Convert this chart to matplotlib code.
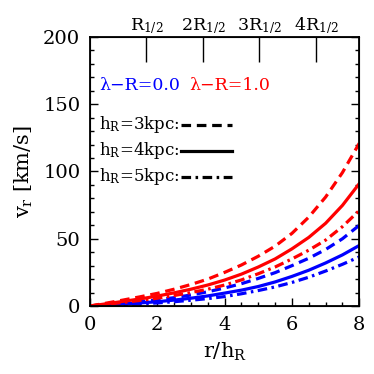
import matplotlib
matplotlib.use('Agg')
import matplotlib.pyplot as plt
import numpy as np

plt.rcParams['font.family'] = ['DejaVu Serif']
plt.rcParams['mathtext.fontset'] = 'dejavuserif'

# r / h_R sample points
x = [0, 0.5, 1, 1.5, 2, 2.5, 3, 3.5, 4, 4.5, 5, 5.5, 6, 6.5, 7, 7.5, 8]

# v_r [km/s], lambda-R = 0.0 (blue)
blue_h3 = [0, 1.0, 2.0, 3.2, 4.5, 6.2, 8.2, 10.6, 13.4, 16.6, 20.5, 24.8, 30.0, 35.5, 42.0, 50.0, 60.0]
blue_h4 = [0, 0.7, 1.5, 2.3, 3.2, 4.4, 5.8, 7.5, 9.6, 11.8, 14.5, 17.9, 22.0, 26.6, 32.0, 38.0, 45.0]
blue_h5 = [0, 0.5, 1.0, 1.6, 2.3, 3.2, 4.3, 5.5, 7.0, 9.1, 11.5, 14.2, 17.5, 21.4, 26.0, 31.0, 36.5]

# v_r [km/s], lambda-R = 1.0 (red)
red_h3 = [0, 2.2, 4.5, 6.9, 9.4, 12.5, 16.0, 20.0, 25.0, 30.5, 37.0, 44.5, 54.0, 66.1, 81.0, 99.2, 121.0]
red_h4 = [0, 1.7, 3.5, 5.3, 7.4, 9.8, 12.5, 15.6, 19.3, 23.7, 29.0, 35.0, 42.5, 51.0, 61.5, 74.8, 91.0]
red_h5 = [0, 1.3, 2.7, 4.2, 5.8, 7.8, 10.0, 12.5, 15.6, 19.4, 24.0, 29.0, 35.0, 41.5, 49.0, 59.0, 71.0]

r_half = 1.678   # R_1/2 in units of h_R
top_labels = [r'$\mathrm{R_{1/2}}$', r'$\mathrm{2R_{1/2}}$',
              r'$\mathrm{3R_{1/2}}$', r'$\mathrm{4R_{1/2}}$']

DASH = (0, (3.0, 1.8))
DOTDASH = (0, (3.0, 1.4, 0.8, 1.4))
LW = 2.3

fig = plt.figure(figsize=(3.74, 3.74), dpi=100)
ax = fig.add_axes([0.2406, 0.1818, 0.72, 0.7193])

for ys, ls in ((blue_h3, DASH), (blue_h4, '-'), (blue_h5, DOTDASH)):
  ax.plot(x, ys, color='blue', lw=LW, linestyle=ls)
for ys, ls in ((red_h3, DASH), (red_h4, '-'), (red_h5, DOTDASH)):
  ax.plot(x, ys, color='red', lw=LW, linestyle=ls)

ax.set_xlim(0, 8)
ax.set_ylim(0, 200)
ax.set_xticks([0, 2, 4, 6, 8])
ax.set_xticks(np.arange(0, 8.01, 0.5), minor=True)
ax.set_yticks([0, 50, 100, 150, 200])
ax.set_yticks(np.arange(0, 201, 10), minor=True)
ax.tick_params(which='both', direction='in', top=True, right=True,
               labelsize=14, width=1)
ax.tick_params(which='major', length=6, pad=7)
ax.tick_params(which='minor', length=3)
for s in ax.spines.values():
  s.set_linewidth(1.3)

ax.set_xlabel(r'$\mathrm{r/h_R}$', fontsize=15, labelpad=5)
ax.set_ylabel(r'$\mathrm{v_r}$ [km/s]', fontsize=15, labelpad=6)

# top axis with R_1/2 marks
ax2 = ax.twiny()
ax2.set_xlim(0, 8)
ax2.set_xticks([r_half * k for k in (1, 2, 3, 4)])
ax2.set_xticklabels(top_labels)
ax2.tick_params(direction='in', length=18, width=1, labelsize=12.5, pad=1)

# legends
ax.text(0.035, 0.82, 'λ\u2212R=0.0', color='blue', fontsize=12.5,
        transform=ax.transAxes, va='center')
ax.text(0.37, 0.82, 'λ\u2212R=1.0', color='red', fontsize=12.5,
        transform=ax.transAxes, va='center')

rows = [(r'$\mathrm{h_R}$=3kpc:', DASH, 0.673),
        (r'$\mathrm{h_R}$=4kpc:', '-', 0.577),
        (r'$\mathrm{h_R}$=5kpc:', DOTDASH, 0.48)]
for label, ls, yy in rows:
  ax.text(0.035, yy, label, fontsize=12, transform=ax.transAxes, va='center')
  ax.plot([0.338, 0.527], [yy, yy], color='black', lw=LW, linestyle=ls,
          transform=ax.transAxes)

fig.savefig('out.png', dpi=100)
